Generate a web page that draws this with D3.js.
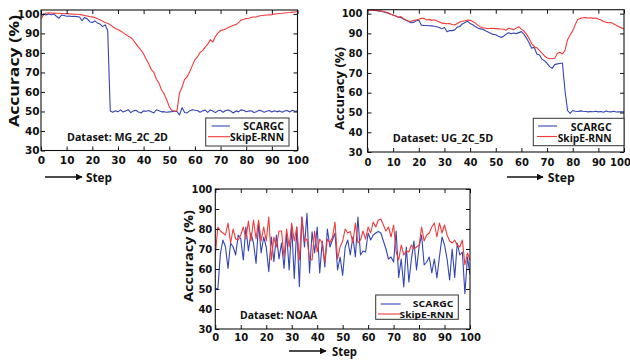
<!DOCTYPE html>
<html><head><meta charset="utf-8">
<script src="https://cdn.jsdelivr.net/npm/d3@7"></script>
<style>
html,body{margin:0;padding:0;background:#fff;}
svg{display:block;}
text{font-family:"Open Sans","DejaVu Sans",sans-serif;font-weight:bold;fill:#111;}
.tick text{font-family:"DejaVu Sans",sans-serif;font-weight:bold;fill:#111;}
</style>
</head><body>
<svg id="chart" width="630" height="360"></svg>
<script>
// ---------- data ----------
const steps = d3.range(0, 101);
const xTickValues = [0,10,20,30,40,50,60,70,80,90,100];
const yTickValues = [30,40,50,60,70,80,90,100];
const seriesNames = ["SCARGC", "SkipE-RNN"];
const datasetNames = ["MG_2C_2D", "UG_2C_5D", "NOAA"];

const mgScargc = [99,100,99.5,100,99.6,100,98.8,97.8,99.4,99.2,98.8,98.9,98.7,98.8,98.6,98.4,96.5,98.2,97.4,96,95.6,96.4,95.4,94.8,93.5,94.4,91.5,50.2,49.6,50.4,49.8,50.8,49.7,50.2,50.9,49.4,50.3,50.6,49.7,49.2,50.3,50.1,50.5,49.9,49.2,50.9,50.4,49.8,49.9,49.6,49.8,49.9,50.1,50.0,48.2,52.0,49.5,49.3,50.4,50.9,50.6,50.5,49.6,50.3,50.7,49.5,50.8,50.2,49.4,50.4,50.6,49.6,50.5,50.7,50.1,49.2,50.3,49.8,50.8,50.6,49.9,50.2,50.4,49.5,49.9,50.6,50.3,49.6,50.1,50.5,49.7,50.4,49.8,50.3,49.6,50.2,50.5,49.7,50.6,50.1,50.3];
const mgSkip = [97.5,99.5,100.5,100.6,100.5,100.4,100.3,100.3,100.2,100.1,100.2,100,99.9,99.8,99.8,99.7,99.5,99.2,98.9,98.6,98.5,98.1,97.5,97,96.2,95.6,95.2,94.4,93.4,92.5,92,91.2,90.4,89.4,88.6,87.9,86.5,84.8,83,81.4,79.5,76.8,74.5,71.5,70,66.5,64.5,61,59,56,52.5,50.5,50.2,50.3,59.5,62.5,66.5,67.8,70.5,73.5,76.5,78,80.2,81.2,83,84.5,86.8,85.6,88.5,90.2,91.5,91.8,92.3,93,93.6,94.2,94.5,95.5,96.8,97.3,97.6,97.8,98.2,98.4,98.5,98.9,99.2,99.3,99.4,99.5,99.6,99.9,100.1,100.2,100.3,100.5,100.6,100.7,100.9,101,101.3];

const ugScargc = [101.7,101.7,101.7,101.6,101.4,101.2,101,100.6,100.2,99.7,99.3,98.8,98.3,98,97.3,96.6,96,95.4,95.6,96.4,96.7,94.2,94,94,93.9,93.8,93.6,93.4,93,92.3,93,90.8,91.5,91.4,91.8,93.2,93.5,94.8,95.5,96.2,95,94.4,93.5,92.7,92.3,92,91.3,90.7,90.1,89.5,89.3,88.6,88,88.5,89.6,90.4,89.8,90.2,89.9,90.4,90.9,89.5,87.6,85.3,82.5,83,79.6,79.2,77,76.2,74.8,73.2,72.3,74.2,74.6,74.8,75,61,51,49.5,51,50.6,50.5,50.8,50.6,50.5,50.3,50.5,50.4,50.6,50.3,50.5,50.1,50.7,50.4,50.3,50.6,50.2,50.4,50.3,50.4];
const ugSkip = [101.8,101.8,101.8,101.7,101.6,101.4,101.2,100.8,100.4,99.8,99.2,98.8,98.2,98.5,97.6,96.8,96.3,96.1,96.6,96.8,97.2,97.7,97.6,96.8,97.1,96.6,96.9,96.4,95.8,95.2,95.1,94.9,95,94.5,94.3,95,95.8,96.2,96.4,96.8,96.6,96,95.2,94.2,93.3,92.8,92.6,92.4,92.6,92.5,92.4,92.3,92.2,92.1,91.6,92.6,92.4,91.8,92.8,93.4,92.2,91.2,89.5,87.5,84.8,83.3,82.8,81.4,80,78.6,77.7,77.2,77.2,77.4,79.8,80.5,79.6,81.4,86.8,89.2,91.3,94.5,97,97.6,97.9,98,97.8,97.9,97.6,97.8,97.3,96.8,96,95.6,95.4,95.5,94.8,94.1,93.4,92.8,92.3];

const noaaScargc = [50.3,50,67.8,74.5,71,60.3,73,71,67,77,75,64.5,81,69,78,73,62.8,82.8,68,76,71,58.7,76,63.7,77,65,73,60.3,78,59.5,81,55.3,81,51.2,86,71,87.8,58,78.6,68,81,58,74,61,80,71,74.5,78,59.5,66,56.8,71,74.5,67,76,66,86,67,69,68.5,78,74.5,77,78,78.7,78,74,70,65,66,63.5,79,55.8,65,51,71,53.5,65,74,59.5,71,77,62,63.5,66,58,65,55.5,66,76,72,65,54.5,70,55.8,73,67,68.5,47.7,66,57];
const noaaSkip = [67,81,79,78,77,83,73,80,75,74.5,77,81,75,84,74,84.5,75,84.5,74,81,74,86,64.5,76,71,79,79,66,80,71,83,74,81,64.5,86,74,75,65,64.5,79,68.5,75,73,63.5,75,73,76,83.5,65,71,74,80,78,78.7,73,83,73,74.5,79,75,81,78,83.5,81,84.5,85,82,79,81,76,82,68.5,64.5,72,67,69,68.5,72,70,71,72,81,74,77,78,81,83,76,83,78,82,77,74,73,74.5,72,71,74.5,62,68,64.5];

// ---------- layout ----------
const panels = [
  { s1: mgScargc, s2: mgSkip, name: datasetNames[0],
    L: 41, R: 297.5, T: 10, B: 150.5, yMax: 102, fs: 10.5, xpad: 6.5, ypad: 1.5, lastShift: 0,
    yl: {x: 18.5, cy: 71, len: 112, fs: 14},
    ds: {x: 67, y: 141, len: 101, fs: 10.5},
    lg: {x: 205.7, y: 118, w: 83.3, h: 28, l1: [211.7, 230, 126], l2: [208, 230, 136.7], tx: 284, b1: 130.3, b2: 141, w1: 40.7, w2: 54, fs: 10},
    ar: {x1: 45, x2: 82, y: 177, sx: 86, sy: 181.5, slen: 26, fs: 13} },
  { s1: ugScargc, s2: ugSkip, name: datasetNames[1],
    L: 367.5, R: 624, T: 9.7, B: 152, yMax: 102, fs: 10, xpad: 7, ypad: 5, lastShift: -4,
    yl: {x: 344, cy: 88.5, len: 83, fs: 12},
    ds: {x: 392.7, y: 142, len: 100.6, fs: 10.5},
    lg: {x: 533.3, y: 118.3, w: 90.7, h: 27.4, l1: [538, 557, 126], l2: [537, 557, 136.5], tx: 611.7, b1: 130.5, b2: 141.7, w1: 41, w2: 54, fs: 10},
    ar: {x1: 507, x2: 543, y: 177, sx: 547.7, sy: 181.5, slen: 27, fs: 13} },
  { s1: noaaScargc, s2: noaaSkip, name: datasetNames[2],
    L: 215.3, R: 470, T: 189, B: 329, yMax: 100, fs: 10, xpad: 5, ypad: 3, lastShift: 0,
    yl: {x: 192.5, cy: 256, len: 92, fs: 12.5},
    ds: {x: 240, y: 319, len: 77.3, fs: 10.5},
    lg: {x: 375.7, y: 295, w: 82.6, h: 24.3, l1: [380.7, 400.7, 304], l2: [378, 400, 314], tx: 453.5, b1: 306.6, b2: 317.5, w1: 40.7, w2: 54, fs: 9.5},
    ar: {x1: 289, x2: 326, y: 351, sx: 332, sy: 355.5, slen: 25, fs: 13} }
];

const BLUE = "#3445b4", RED = "#f23a3a";
const svg = d3.select("#chart");
const defs = svg.append("defs");
defs.append("marker").attr("id", "arrowhead").attr("viewBox", "0 0 10 10")
  .attr("refX", 9).attr("refY", 5).attr("markerWidth", 4.2).attr("markerHeight", 4.2)
  .attr("orient", "auto").attr("markerUnits", "strokeWidth")
  .append("path").attr("d", "M0,0 L10,5 L0,10 z").attr("fill", "#111");

panels.forEach((p, i) => {
  const x = d3.scaleLinear().domain([0, 100]).range([p.L, p.R]);
  const y = d3.scaleLinear().domain([30, p.yMax]).range([p.B, p.T]);
  const g = svg.append("g");

  defs.append("clipPath").attr("id", "clip" + i).append("rect")
    .attr("x", p.L).attr("y", p.T).attr("width", p.R - p.L).attr("height", p.B - p.T);

  const line = d3.line().x((d, k) => x(steps[k])).y(d => y(d));
  const plot = g.append("g").attr("clip-path", `url(#clip${i})`);
  plot.append("path").datum(p.s1).attr("d", line).attr("fill", "none")
    .attr("stroke", BLUE).attr("stroke-width", 1.1).attr("stroke-linejoin", "round");
  plot.append("path").datum(p.s2).attr("d", line).attr("fill", "none")
    .attr("stroke", RED).attr("stroke-width", 1.1).attr("stroke-linejoin", "round");

  // axes (ticks inward)
  const xb = g.append("g").attr("transform", `translate(0,${p.B})`)
    .call(d3.axisBottom(x).tickValues(xTickValues).tickSizeInner(-4).tickSizeOuter(0).tickPadding(p.xpad).tickFormat(d3.format("d")));
  const xt = g.append("g").attr("transform", `translate(0,${p.T})`)
    .call(d3.axisTop(x).tickValues(xTickValues).tickSizeInner(-4).tickSizeOuter(0).tickFormat(""));
  const yl = g.append("g").attr("transform", `translate(${p.L},0)`)
    .call(d3.axisLeft(y).tickValues(yTickValues).tickSizeInner(-4).tickSizeOuter(0).tickPadding(p.ypad).tickFormat(d3.format("d")));
  const yr = g.append("g").attr("transform", `translate(${p.R},0)`)
    .call(d3.axisRight(y).tickValues(yTickValues).tickSizeInner(-4).tickSizeOuter(0).tickFormat(""));
  [xb, xt, yl, yr].forEach(a => {
    a.select(".domain").remove();
    a.selectAll(".tick line").attr("stroke", "#111").attr("stroke-width", 1);
    a.selectAll(".tick text").style("font-size", p.fs + "px").attr("fill", "#111");
  });
  if (p.lastShift) {
    xb.selectAll(".tick text").filter(d => d === 100).attr("dx", p.lastShift);
  }

  g.append("rect").attr("x", p.L).attr("y", p.T).attr("width", p.R - p.L).attr("height", p.B - p.T)
    .attr("fill", "none").attr("stroke", "#111").attr("stroke-width", 1.1);

  // y label
  g.append("text").attr("transform", `translate(${p.yl.x},${p.yl.cy}) rotate(-90)`)
    .attr("text-anchor", "middle").style("font-size", p.yl.fs + "px")
    .attr("textLength", p.yl.len).attr("lengthAdjust", "spacingAndGlyphs")
    .text("Accuracy (%)");

  // dataset label
  g.append("text").attr("x", p.ds.x).attr("y", p.ds.y).style("font-size", p.ds.fs + "px")
    .attr("textLength", p.ds.len).attr("lengthAdjust", "spacingAndGlyphs")
    .text("Dataset: " + p.name);

  // legend
  const lg = p.lg;
  g.append("rect").attr("x", lg.x).attr("y", lg.y).attr("width", lg.w).attr("height", lg.h)
    .attr("fill", "#fff").attr("stroke", "#333").attr("stroke-width", 1);
  g.append("line").attr("x1", lg.l1[0]).attr("x2", lg.l1[1]).attr("y1", lg.l1[2]).attr("y2", lg.l1[2])
    .attr("stroke", BLUE).attr("stroke-width", 1.1);
  g.append("line").attr("x1", lg.l2[0]).attr("x2", lg.l2[1]).attr("y1", lg.l2[2]).attr("y2", lg.l2[2])
    .attr("stroke", RED).attr("stroke-width", 1.1);
  g.append("text").attr("x", lg.tx).attr("y", lg.b1).attr("text-anchor", "end").style("font-size", lg.fs + "px")
    .attr("textLength", lg.w1).attr("lengthAdjust", "spacingAndGlyphs").text(seriesNames[0]);
  g.append("text").attr("x", lg.tx).attr("y", lg.b2).attr("text-anchor", "end").style("font-size", lg.fs + "px")
    .attr("textLength", lg.w2).attr("lengthAdjust", "spacingAndGlyphs").text(seriesNames[1]);

  // step arrow
  g.append("line").attr("x1", p.ar.x1).attr("x2", p.ar.x2).attr("y1", p.ar.y).attr("y2", p.ar.y)
    .attr("stroke", "#111").attr("stroke-width", 1.6).attr("marker-end", "url(#arrowhead)");
  g.append("text").attr("x", p.ar.sx).attr("y", p.ar.sy).style("font-size", p.ar.fs + "px")
    .attr("textLength", p.ar.slen).attr("lengthAdjust", "spacingAndGlyphs").text("Step");
});
</script>
</body></html>
